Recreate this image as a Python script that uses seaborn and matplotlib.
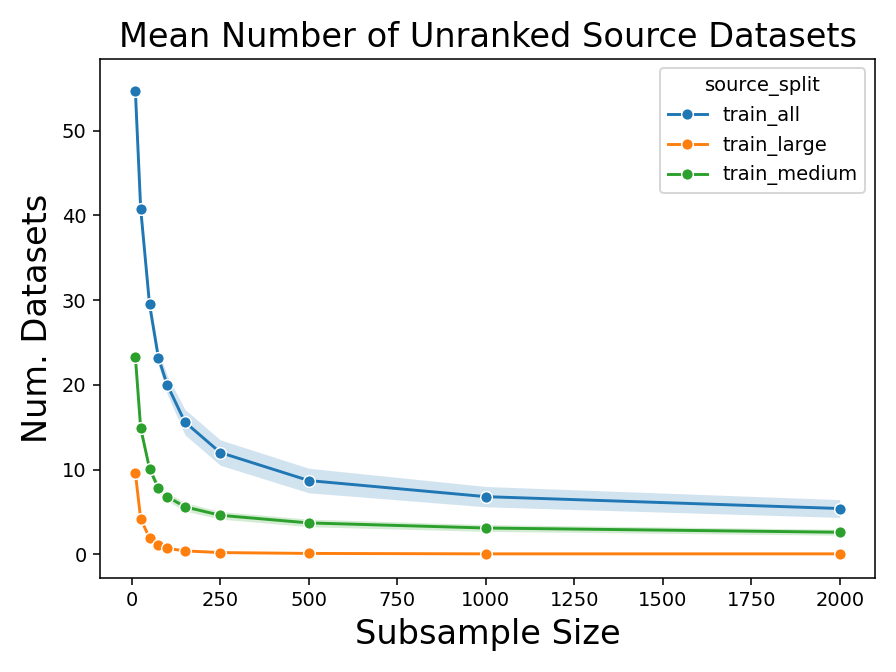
import pandas as pd
import numpy as np
import seaborn as sns
import matplotlib.pyplot as plt

sizes = [10, 25, 50, 75, 100, 150, 250, 500, 1000, 2000]
splits = ["train_all", "train_large", "train_medium"]

mean_all = [54.7, 40.8, 29.5, 23.2, 20.0, 15.6, 12.0, 8.7, 6.8, 5.4]
mean_large = [9.6, 4.2, 1.9, 1.1, 0.7, 0.4, 0.2, 0.1, 0.05, 0.05]
mean_medium = [23.3, 14.9, 10.1, 7.8, 6.8, 5.6, 4.6, 3.7, 3.1, 2.6]

# half width of the confidence band
ci_all = [1.0, 0.6, 0.8, 0.9, 1.1, 1.5, 1.5, 1.45, 1.2, 1.05]
ci_large = [0.3, 0.2, 0.15, 0.1, 0.1, 0.05, 0.05, 0.03, 0.02, 0.02]
ci_medium = [0.4, 0.45, 0.5, 0.55, 0.5, 0.5, 0.45, 0.45, 0.4, 0.35]

means = {"train_all": mean_all, "train_large": mean_large, "train_medium": mean_medium}
cis = {"train_all": ci_all, "train_large": ci_large, "train_medium": ci_medium}

rows = []
for s in splits:
    for x, m, c in zip(sizes, means[s], cis[s]):
        rows.append({"subsample_size": x, "source_split": s, "mean": m, "lo": m - c, "hi": m + c})
df = pd.DataFrame(rows)

fig, ax = plt.subplots(figsize=(6.4, 4.8), dpi=140)
palette = sns.color_palette("tab10", 3)

sns.lineplot(data=df, x="subsample_size", y="mean", hue="source_split",
             marker="o", palette=palette, errorbar=None, ax=ax)
for s, color in zip(splits, palette):
    d = df[df["source_split"] == s]
    ax.fill_between(d["subsample_size"], d["lo"], d["hi"], color=color, alpha=0.2, linewidth=0)

ax.set_xticks([0, 250, 500, 750, 1000, 1250, 1500, 1750, 2000])
ax.set_title("Mean Number of Unranked Source Datasets", fontsize=17.3)
ax.set_xlabel("Subsample Size", fontsize=17.3)
ax.set_ylabel("Num. Datasets", fontsize=17.3)
ax.legend(title="source_split", loc="upper right")

plt.tight_layout()
plt.savefig("out.png")
